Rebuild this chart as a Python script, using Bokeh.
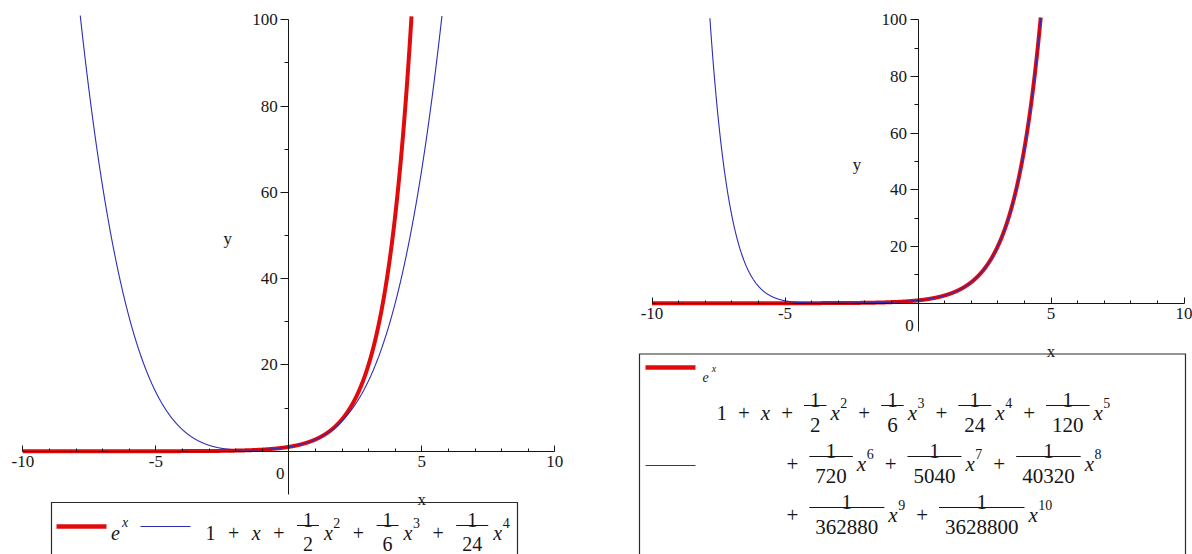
import numpy as np
from bokeh.plotting import figure
from bokeh.models import FixedTicker, Range1d, ColumnDataSource
from bokeh.layouts import row
from bokeh.embed import file_html
from bokeh.resources import INLINE
from bokeh.core.properties import value

# ---------------- data ----------------
x_domain = [-10, 10]
y_view = [-10, 100]
clip_top = 101
x_major = [-10, -5, 5, 10]
x_major_labels = ["-10", "-5", "5", "10"]
x_minor = [-9, -8, -7, -6, -4, -3, -2, -1, 1, 2, 3, 4, 6, 7, 8, 9]
y_major = [20, 40, 60, 80, 100]
y_minor = [10, 30, 50, 70, 90]
# Taylor polynomial denominators (k!) as printed in the legends
left_denominators = [1, 1, 2, 6, 24]
right_denominators = [1, 1, 2, 6, 24, 120, 720, 5040, 40320, 362880, 3628800]
right_rows = [[0, 1, 2, 3, 4, 5], [6, 7, 8], [9, 10]]
n_samples = 6001

# ---------------- style ----------------
RED = "#e10b0b"
BLUE = "#2c2cb8"
INK = "#161616"
SERIF = "Liberation Serif"
PAGE_W, PAGE_H = 1192, 554


def sample(denoms):
    xs = np.linspace(x_domain[0], x_domain[1], n_samples)
    poly = np.zeros_like(xs)
    for k, d in enumerate(denoms):
        poly = poly + xs ** k / d
    ex = np.exp(xs)
    poly = np.where(poly > clip_top, np.nan, poly)
    ex = np.where(ex > clip_top, np.nan, ex)
    return xs, ex, poly


def char_w(ch, size):
    if ch.isdigit():
        return 0.5 * size
    if ch == "+":
        return 0.564 * size
    return 0.444 * size


def text_w(s, size):
    return sum(char_w(c, size) for c in s)


class Panel:
    """One Maple-style panel; page pixel -> data mapping px = ox + sx*x, py = oy - sy*y."""

    def __init__(self, left, right, ox, sx, oy, sy, top=0, bottom=PAGE_H):
        self.ox, self.sx, self.oy, self.sy = ox, sx, oy, sy
        p = figure(frame_width=right - left, frame_height=bottom - top,
                   x_range=Range1d(self.X(left), self.X(right)),
                   y_range=Range1d(self.Y(bottom), self.Y(top)),
                   output_backend="svg", toolbar_location=None, min_border=0,
                   background_fill_color="white", border_fill_color="white")
        p.outline_line_color = None
        p.xgrid.visible = False
        p.ygrid.visible = False

        xa = p.xaxis[0]
        xa.fixed_location = 0
        xa.bounds = (x_domain[0], x_domain[1])
        xa.ticker = FixedTicker(ticks=x_major, minor_ticks=x_minor)
        xa.major_label_overrides = dict(zip(x_major, x_major_labels))
        xa.major_tick_in = 6
        xa.major_tick_out = 0
        xa.minor_tick_in = 3
        xa.minor_tick_out = 0
        xa.major_label_standoff = 5

        ya = p.yaxis[0]
        ya.fixed_location = 0
        ya.bounds = (y_view[0], y_view[1])
        ya.ticker = FixedTicker(ticks=y_major, minor_ticks=y_minor)
        ya.major_tick_in = 0
        ya.major_tick_out = 8
        ya.minor_tick_in = 0
        ya.minor_tick_out = 4
        ya.major_label_standoff = 3

        for a in (xa, ya):
            a.axis_line_color = INK
            a.major_tick_line_color = INK
            a.minor_tick_line_color = INK
            a.major_label_text_font = SERIF
            a.major_label_text_font_size = "17px"
            a.major_label_text_color = INK

        self.p = p
        self.groups = {}
        self.bars = {"x0": [], "y0": [], "x1": [], "y1": []}

    def X(self, px):
        return (px - self.ox) / self.sx

    def Y(self, py):
        return (self.oy - py) / self.sy

    def px(self, x):
        return self.ox + self.sx * x

    def py(self, y):
        return self.oy - self.sy * y

    def add_text(self, px, py, s, size, italic=False):
        d = self.groups.setdefault((size, italic), {"x": [], "y": [], "text": []})
        d["x"].append(self.X(px))
        d["y"].append(self.Y(py))
        d["text"].append(s)

    def add_bar(self, x0, x1, py):
        self.bars["x0"].append(self.X(x0))
        self.bars["x1"].append(self.X(x1))
        self.bars["y0"].append(self.Y(py))
        self.bars["y1"].append(self.Y(py))

    def curves(self, denoms):
        xs, ex, poly = sample(denoms)
        self.p.line(xs, ex, line_color=RED, line_width=4, line_join="round")
        self.p.line(xs, poly, line_color=BLUE, line_width=1.1)

    def axis_texts(self):
        ax, ay = self.px(0), self.py(0)
        self.add_text(ax - 8.5, ay + 22, "0", 17)
        self.add_text(self.px(5), ay + 45 + 3.5, "x", 17)
        self.add_text(ax - 61, self.py(50) + 3, "y", 17)

    def box(self, L, T, R):
        self.p.line(x=[self.X(L), self.X(L), self.X(R), self.X(R)],
                    y=[self.Y(PAGE_H + 40), self.Y(T), self.Y(T), self.Y(PAGE_H + 40)],
                    line_color="#2a2a2a", line_width=1.2, line_join="miter")

    def sample_line(self, x0, x1, py, color, width):
        self.p.segment(x0=[self.X(x0)], y0=[self.Y(py)], x1=[self.X(x1)], y1=[self.Y(py)],
                       line_color=color, line_width=width)

    def typeset(self, items, start, bar, g, pad, thin, F, S, num_off=6, den_off=19):
        cur = start
        base = bar + 7
        for it in items:
            kind = it[0]
            if kind == "n":
                w = text_w(it[1], F)
                self.add_text(cur + w / 2, base, it[1], F)
                cur += w
            elif kind == "op":
                cur += g
                w = text_w("+", F)
                self.add_text(cur + w / 2, base, "+", F)
                cur += w + g
            elif kind == "x":
                w = text_w("x", F)
                self.add_text(cur + w / 2, base, "x", F, italic=True)
                cur += w
            elif kind == "sup":
                cur += 0.5
                w = text_w(it[1], S)
                self.add_text(cur + w / 2, base - 10, it[1], S)
                cur += w
            elif kind == "thin":
                cur += thin
            elif kind == "frac":
                w = max(text_w(it[1], F), text_w(it[2], F)) + 2 * pad
                self.add_bar(cur, cur + w, bar)
                self.add_text(cur + w / 2, bar - num_off, it[1], F)
                self.add_text(cur + w / 2, bar + den_off, it[2], F)
                cur += w
        return cur

    def finish(self):
        for (size, italic), d in self.groups.items():
            self.p.text(x="x", y="y", text="text", source=ColumnDataSource(d),
                        text_font=value(SERIF), text_font_size=f"{size}px",
                        text_font_style="italic" if italic else "normal",
                        text_align="center", text_baseline="alphabetic",
                        text_color=INK)
        self.p.segment(x0="x0", y0="y0", x1="x1", y1="y1",
                       source=ColumnDataSource(self.bars),
                       line_color=INK, line_width=1)


def term_items(k, d):
    if k == 0:
        return [("n", "1")]
    if k == 1:
        return [("x",)]
    return [("frac", "1", str(d)), ("thin",), ("x",), ("sup", str(k))]


def row_items(indices, denoms, leading_plus):
    items = []
    for j, k in enumerate(indices):
        if j > 0 or leading_plus:
            items.append(("op",))
        items += term_items(k, denoms[k])
    return items


# ---------------- left panel ----------------
left = Panel(0, 596, ox=288.3, sx=26.6, oy=450.7, sy=4.3135)
left.curves(left_denominators)
left.axis_texts()
left.box(51, 502, 517)
left.sample_line(56, 106, 526, RED, 4.5)
left.add_text(115, 532, "e", 20, italic=True)
left.add_text(124.5, 522, "x", 14, italic=True)
left.sample_line(140, 190, 526, BLUE, 1.2)
left.typeset(row_items(range(len(left_denominators)), left_denominators, False),
             start=205, bar=525, g=12.5, pad=6, thin=5, F=20, S=14,
             num_off=5.5, den_off=18)
left.finish()

# ---------------- right panel ----------------
right = Panel(596, 1192, ox=917.5, sx=26.6, oy=302.7, sy=2.834)
right.curves(right_denominators)
right.axis_texts()
right.box(639, 353.5, 1185)
right.sample_line(645, 695, 367, RED, 4.5)
right.add_text(705, 376, "e", 14, italic=True)
right.add_text(713.5, 368, "x", 10, italic=True)
right.sample_line(645, 695, 465, BLUE, 1.2)
g_r, pad_r, thin_r = 11, 6, 4
row_bars = [405, 456, 507]
for r, idx in enumerate(right_rows):
    lead = r > 0
    start = 716 if not lead else 786 - g_r
    right.typeset(row_items(idx, right_denominators, lead), start=start,
                  bar=row_bars[r], g=g_r, pad=pad_r, thin=thin_r, F=21, S=14)
right.finish()

layout = row(left.p, right.p)
open("out.html", "w").write(file_html(layout, INLINE))
